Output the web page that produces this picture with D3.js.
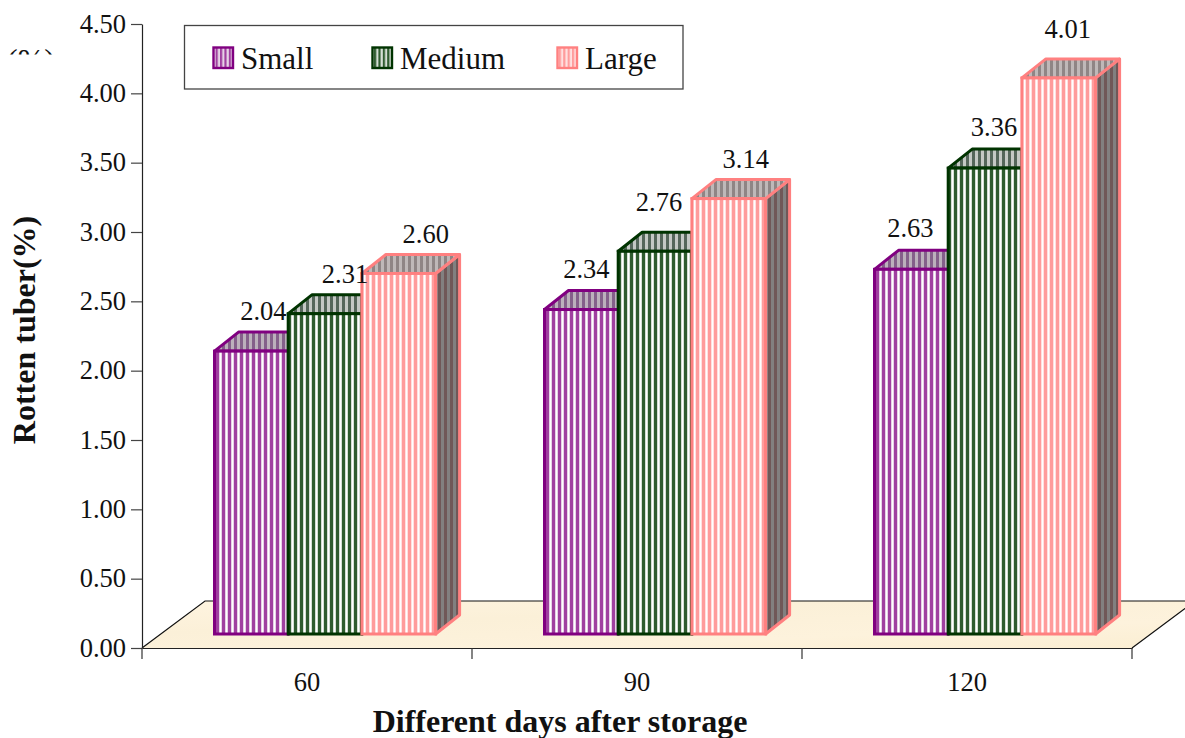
<!DOCTYPE html>
<html>
<head>
<meta charset="utf-8">
<script src="https://cdn.jsdelivr.net/npm/d3@7"></script>
<style>
html,body{margin:0;padding:0;background:#fff;overflow:hidden}
text{font-family:"Liberation Serif","Times New Roman",serif;fill:#111}
</style>
</head>
<body>
<svg id="chart" width="1185" height="738"></svg>
<script>
const categories = ["60", "90", "120"];
const seriesNames = ["Small", "Medium", "Large"];
const small = [2.04, 2.34, 2.63];
const medium = [2.31, 2.76, 3.36];
const large = [2.60, 3.14, 4.01];
const yTicks = [0, 0.5, 1, 1.5, 2, 2.5, 3, 3.5, 4, 4.5];
const xTitle = "Different days after storage";
const yTitle = "Rotten tuber(%)";
const clippedNote = "(%)";

const seriesValues = [small, medium, large];
const strokeColors = ["#800080", "#003300", "#ff8080"];
const frontBack = ["#e6d2e6", "#d5dfd5", "#ffe0e0"];
const frontStripe = ["#a040a0", "#2f5c2f", "#ff9c9c"];
const topBack = ["#bcb0bc", "#c4c8c4", "#bfb8b8"];
const topStripe = ["#84608a", "#55665a", "#8f8585"];
const sideBack = ["#808080", "#808080", "#828080"];
const sideStripe = ["#5a3a5a", "#3a4a3a", "#705858"];

// layout
const W = 1185, H = 738;
const axisX0 = 142, axisX1 = 1132, axisY0 = 648, axisY1 = 24;
const floorDX = 63, floorDY = 47, floorLift = 14;
const barDX = 24, barDY = 19;
const groupInset = 72.5, barW = 73.7;
// hand-placed label nudges from the bar centre, as in the source chart
const labelDX = [[12, 20, 27], [5, 4, 17], [-1, 9, 9]];
const labelDY = [[31, 31, 30], [32, 40, 31], [32, 32, 40]];

const svg = d3.select("#chart");
const defs = svg.append("defs");

function stripePattern(id, back, stripe, period, sw, hi) {
  const p = defs.append("pattern").attr("id", id)
    .attr("patternUnits", "userSpaceOnUse")
    .attr("width", period).attr("height", 10);
  p.append("rect").attr("width", period).attr("height", 10).attr("fill", back);
  p.append("rect").attr("x", 0).attr("width", sw).attr("height", 10).attr("fill", stripe);
  if (hi) p.append("rect").attr("x", sw + 1).attr("width", period - sw - 2).attr("height", 10).attr("fill", hi);
}
strokeColors.forEach((c, i) => {
  stripePattern("front" + i, frontBack[i], frontStripe[i], 6, 3, "#ffffff");
  stripePattern("top" + i, topBack[i], topStripe[i], 6, 3);
  stripePattern("side" + i, sideBack[i], sideStripe[i], 6, 3);
  stripePattern("leg" + i, frontBack[i], frontStripe[i], 4.4, 2.2);
});
defs.append("linearGradient").attr("id", "floorGrad")
  .attr("x1", 0).attr("x2", 1).attr("y1", 0).attr("y2", 1)
  .selectAll("stop").data([["0%", "#fef4e0"], ["35%", "#fbf0d8"], ["70%", "#fdf2dc"], ["100%", "#fbeed2"]])
  .join("stop").attr("offset", d => d[0]).attr("stop-color", d => d[1]);
defs.append("clipPath").attr("id", "noteClip").append("rect")
  .attr("x", 0).attr("y", 0).attr("width", 60).attr("height", 54.5);
defs.append("clipPath").attr("id", "pageClip").append("rect")
  .attr("x", 0).attr("y", 0).attr("width", W).attr("height", H);

const x = d3.scaleBand().domain(categories).range([axisX0, axisX1]);
const y = d3.scaleLinear().domain([0, 4.5]).range([axisY0, axisY1]);
const inner = d3.scaleBand().domain(seriesNames)
  .range([groupInset, groupInset + barW * 3]);

// floor
const line = d3.line();
svg.append("path")
  .attr("d", line([[axisX0, axisY0], [axisX0 + floorDX, axisY0 - floorDY],
                   [axisX1 + floorDX, axisY0 - floorDY], [axisX1, axisY0]]) + "Z")
  .attr("fill", "url(#floorGrad)").attr("clip-path", "url(#pageClip)");
svg.append("path")
  .attr("d", line([[axisX0, axisY0], [axisX0 + floorDX, axisY0 - floorDY],
                   [axisX1 + floorDX, axisY0 - floorDY], [axisX1, axisY0]]))
  .attr("fill", "none").attr("stroke", "#111").attr("stroke-width", 1.2)
  .attr("clip-path", "url(#pageClip)");

// axes
const yAxis = d3.axisLeft(y).tickValues(yTicks).tickFormat(d3.format(".2f"))
  .tickSize(11).tickPadding(5).tickSizeOuter(0);
const gy = svg.append("g").attr("transform", `translate(${axisX0},0)`).call(yAxis);
const xAxis = d3.axisBottom(x).tickSize(0).tickSizeOuter(0).tickPadding(23);
const gx = svg.append("g").attr("transform", `translate(0,${axisY0})`).call(xAxis);
gx.selectAll(".sep").data(x.domain().map(d => x(d)).concat([axisX1])).join("line")
  .attr("class", "sep").attr("x1", d => d).attr("x2", d => d)
  .attr("y1", 0).attr("y2", 11).attr("stroke", "#333").attr("stroke-width", 1.2);
[gy, gx].forEach(g => {
  g.selectAll(".domain").attr("stroke", "#222").attr("stroke-width", 1.2);
  g.selectAll(".tick line").attr("stroke", "#444").attr("stroke-width", 1.2);
  g.selectAll("text").style("font-family", '"Liberation Serif",serif')
    .style("font-size", "26.5px").attr("fill", "#111");
});
gy.selectAll("text").attr("dy", "0.31em");
gx.selectAll("text").attr("dy", "0.76em");

// bars
categories.forEach((cat, g) => {
  const gx0 = x(cat);
  seriesNames.forEach((name, s) => {
    const v = seriesValues[s][g];
    const x0 = gx0 + inner(name), x1 = x0 + inner.bandwidth();
    const yb = y(0) - floorLift, yt = y(v) - floorLift;
    const bar = svg.append("g").attr("class", "bar");
    const edge = { stroke: strokeColors[s], sw: 3 };
    bar.append("path").attr("d", line([[x1, yb], [x1 + barDX, yb - barDY], [x1 + barDX, yt - barDY], [x1, yt]]) + "Z")
      .attr("fill", `url(#side${s})`).attr("stroke", edge.stroke).attr("stroke-width", edge.sw).attr("stroke-linejoin", "round");
    bar.append("path").attr("d", line([[x0, yt], [x0 + barDX, yt - barDY], [x1 + barDX, yt - barDY], [x1, yt]]) + "Z")
      .attr("fill", `url(#top${s})`).attr("stroke", edge.stroke).attr("stroke-width", edge.sw).attr("stroke-linejoin", "round");
    bar.append("rect").attr("x", x0).attr("y", yt).attr("width", x1 - x0).attr("height", yb - yt)
      .attr("fill", `url(#front${s})`).attr("stroke", edge.stroke).attr("stroke-width", edge.sw);
  });
});

// value labels
categories.forEach((cat, g) => {
  seriesNames.forEach((name, s) => {
    const v = seriesValues[s][g];
    svg.append("text")
      .attr("x", x(cat) + inner(name) + inner.bandwidth() / 2 + labelDX[g][s])
      .attr("y", y(v) - floorLift - labelDY[g][s])
      .attr("text-anchor", "middle").attr("font-size", 26.5)
      .text(v.toFixed(2));
  });
});

// legend
svg.append("rect").attr("x", 184.5).attr("y", 25.5).attr("width", 498.5).attr("height", 63.5)
  .attr("fill", "#fff").attr("stroke", "#444").attr("stroke-width", 1.3);
const legendX = d3.scaleOrdinal().domain(seriesNames).range([213.5, 372.5, 557.5]);
seriesNames.forEach((name, s) => {
  svg.append("rect").attr("x", legendX(name)).attr("y", 47.5).attr("width", 19.5).attr("height", 20.5)
    .attr("fill", `url(#leg${s})`).attr("stroke", strokeColors[s]).attr("stroke-width", 2.4);
  svg.append("text").attr("x", legendX(name) + 27.5).attr("y", 68.5)
    .attr("font-size", 31).text(name);
});

// titles
svg.append("text").attr("x", 560).attr("y", 732).attr("text-anchor", "middle")
  .attr("font-size", 32).attr("font-weight", "bold").text(xTitle);
svg.append("text").attr("transform", "translate(35,330) rotate(-90)").attr("text-anchor", "middle")
  .attr("font-size", 32).attr("font-weight", "bold").text(yTitle);
svg.append("g").attr("clip-path", "url(#noteClip)").append("text")
  .attr("x", 7).attr("y", 71).attr("font-size", 32).text(clippedNote);
</script>
</body>
</html>
